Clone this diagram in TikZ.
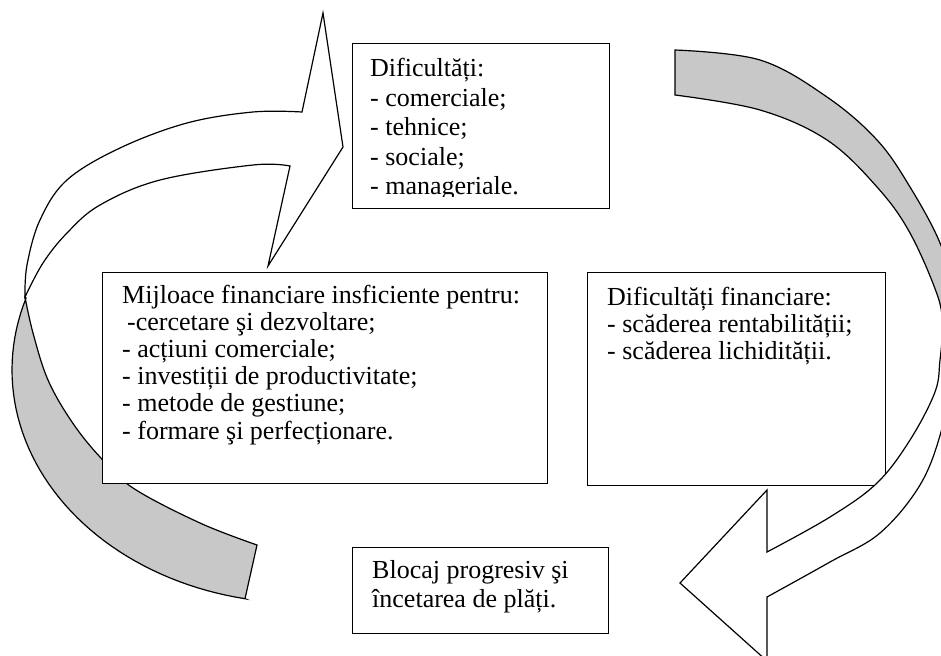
\documentclass[tikz,border=0pt]{standalone}
\usepackage{fontspec}
\setmainfont{Liberation Serif}
\definecolor{bandgray}{RGB}{200,200,200}
\begin{document}
\begin{tikzpicture}[x=1pt,y=-1pt,
  box/.style={draw=black,line width=1.3pt,fill=white,rectangle,inner sep=0pt,anchor=north west},
  band/.style={draw=black,line width=1.2pt,line join=miter},
  txt/.style={inner sep=0pt,anchor=base west}]
\useasboundingbox (0,0) rectangle (941,655);
\clip (0,0) rectangle (941,655);
\newcommand{\tb}[3]{\parbox[t]{#1}{\fontsize{26}{#2}\selectfont\raggedright #3}}
% ---------- left curved arrow ----------
\path[band,fill=bandgray] (25,297)
  -- plot[smooth,tension=0.6] coordinates {(25,297) (33,333) (48,380) (72,422) (100,457) (133,488) (200,523) (257,545)}
  -- (245,598.7)
  -- plot[domain=101:198,samples=50] ({300+288*cos(\x)},{370+233*sin(\x)})
  -- cycle;
\path[band,fill=white] (323,13) -- (302,112)
  -- plot[smooth,tension=0.6] coordinates {(302,112) (253,112) (187,123) (120,148) (67,180) (40,220) (27,265) (25,297)}
  -- plot[smooth,tension=0.6] coordinates {(25,297) (43,263) (67,233) (100,205) (160,180) (253,165) (290,166)}
  -- (268,266) -- (343,147) -- cycle;
% ---------- boxes ----------
\node[box,minimum width=445pt,minimum height=211pt] (mid) at (102,272) {};
\node[txt] (midtext) at (122,303) {\tb{440pt}{27.2pt}{Mijloace financiare insficiente pentru:\\\hspace*{5pt}-cercetare şi dezvoltare;\\- acțiuni comerciale;\\- investiții de productivitate;\\- metode de gestiune;\\- formare şi perfecționare.}};
\node[box,minimum width=298pt,minimum height=213pt] (right) at (587,272) {};
\node[txt] (righttext) at (607,305) {\tb{290pt}{27.2pt}{Dificultăți financiare:\\- scăderea rentabilității;\\- scăderea lichidității.}};
% ---------- right curved arrow ----------
\path[band,fill=bandgray] (675,50)
  -- plot[smooth,tension=0.6] coordinates {(675,50) (760,60) (827,97) (877,140) (910,187) (940,243) (952,290) (943,330)}
  -- plot[smooth,tension=0.6] coordinates {(943,330) (938,297) (910,233) (877,187) (827,140) (760,110) (675,95)}
  -- cycle;
\path[band,fill=white] (943,330)
  -- plot[smooth,tension=0.6] coordinates {(943,330) (940,360) (935,392) (910,440) (877,483) (830,517) (767,552)}
  -- (767,490) -- (680,583) -- (767,661) -- (767,597)
  -- plot[smooth,tension=0.6] coordinates {(767,597) (830,562) (880,533) (920,485) (941,432) (950,380) (943,330)}
  -- cycle;
% ---------- top and bottom boxes ----------
\node[box,minimum width=257pt,minimum height=165pt] (top) at (352,43) {};
\begin{scope}
\clip (352,43) rectangle (609,196);
\node[txt] (toptext) at (370,77) {\tb{230pt}{29.5pt}{Dificultăți:\\- comerciale;\\- tehnice;\\- sociale;\\- manageriale.}};
\end{scope}
\node[box,minimum width=256pt,minimum height=86pt] (bottom) at (352,547) {};
\node[txt] (bottomtext) at (372,578) {\tb{230pt}{29pt}{Blocaj progresiv şi\\încetarea de plăți.}};
\end{tikzpicture}
\end{document}
